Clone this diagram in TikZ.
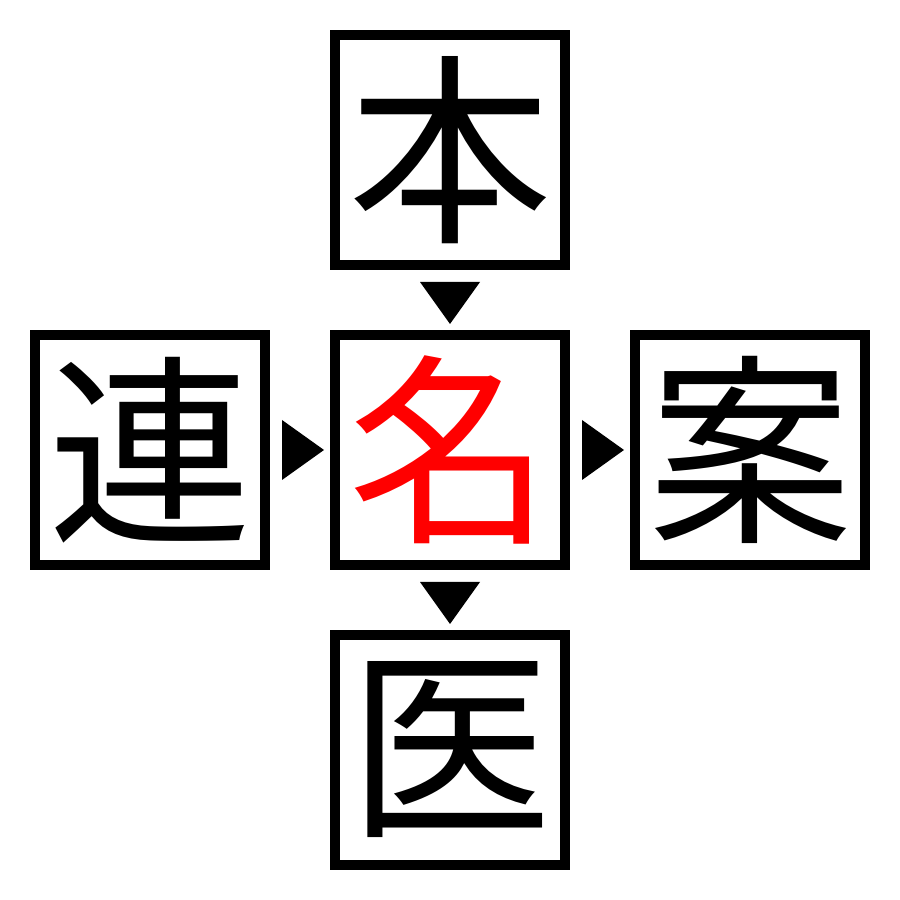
\documentclass[tikz,border=0pt]{standalone}
\usepackage{fontspec}
\newfontfamily\jpfont{Noto Sans CJK JP}
\usetikzlibrary{positioning}
\begin{document}
\begin{tikzpicture}[line join=miter]
\tikzset{kbox/.style={draw,line width=0.1cm,minimum size=2.3cm,inner sep=0pt,outer sep=0pt,
  font=\jpfont\fontsize{58}{58}\selectfont}}
\useasboundingbox (0,0) rectangle (9,9);
\node[kbox] (mei) at (4.5,4.5) {\textcolor{red}{名}};
\node[kbox,above=0.7cm of mei] (hon) {本};
\node[kbox,left=0.7cm of mei] (ren) {連};
\node[kbox,right=0.7cm of mei] (an) {案};
\node[kbox,below=0.7cm of mei] (i) {医};
% triangles
\fill (hon.south) ++(-0.3,-0.17) -- ++(0.6,0) -- ++(-0.3,-0.42) -- cycle;
\fill (mei.south) ++(-0.3,-0.17) -- ++(0.6,0) -- ++(-0.3,-0.42) -- cycle;
\fill (ren.east) ++(0.17,0.3) -- ++(0,-0.6) -- ++(0.42,0.3) -- cycle;
\fill (mei.east) ++(0.17,0.3) -- ++(0,-0.6) -- ++(0.42,0.3) -- cycle;
\end{tikzpicture}
\end{document}
